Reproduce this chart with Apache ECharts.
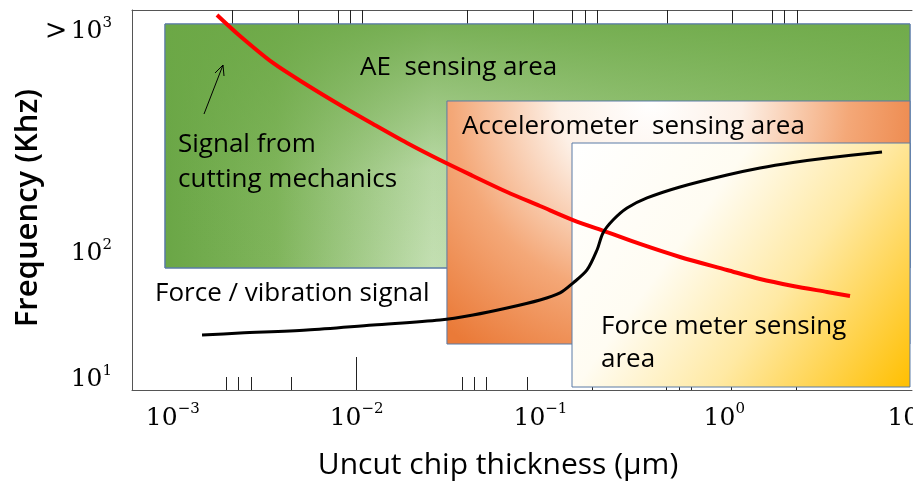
<!DOCTYPE html>
<html><head><meta charset="utf-8">
<script src="https://cdn.jsdelivr.net/npm/echarts@6/dist/echarts.min.js"></script>
<style>html,body{margin:0;padding:0;background:#fff}#c{width:913px;height:482px}</style>
</head><body><div id="c"></div>
<script>
// axis label positions
const xLabelValues = [0.001, 0.01, 0.1, 1, 10];
const yLabelValues = [10, 100, 5690]; // top one is the ">10^3" band
// decorative tick marks read off the frame
const bottomShortTicks = [0.00195, 0.00226, 0.00266, 0.00440, 0.0374, 0.0435, 0.0506, 0.0845, 0.482, 0.567, 0.659, 1.088];
const bottomLongTicks = [0.00993, 0.1907, 2.457];
const topShortTicks = [0.00210, 0.00480, 0.00792, 0.00921, 0.0399, 0.0911, 0.1485, 0.1747, 0.488, 1.102, 1.818, 2.113];
const topLongTicks = [0.01070, 0.2031, 2.488];
// red curve: signal from cutting mechanics
const redX = [0.00174, 0.00232, 0.00351, 0.00537, 0.00812, 0.01228, 0.01880, 0.02843, 0.04296, 0.06577, 0.09947, 0.1504, 0.2302, 0.3479, 0.5742, 1.035, 1.564, 2.365, 3.622, 4.831];
const redY = [7762, 5288, 3228, 2160, 1499, 1059, 748, 548, 409.6, 305.6, 236.6, 183, 147, 118.2, 93.2, 73.5, 62.3, 54.9, 49.2, 45.7];
// black curve: force / vibration signal
const blackX = [0.001442, 0.00232, 0.00537, 0.01228, 0.02843, 0.04296, 0.06577, 0.09947, 0.1278, 0.1504, 0.1792, 0.2031, 0.2189, 0.2482, 0.2958, 0.3800, 0.5742, 1.035, 1.564, 2.365, 3.622, 7.212];
const blackY = [22.4, 23.2, 24.5, 26.9, 29.5, 32.3, 36.7, 42.5, 48.3, 57.9, 73.5, 105.9, 144.5, 183, 228, 274, 335, 417, 474, 524, 569, 635];
// sensing areas
const areaNames = ['AE  sensing area', 'Accelerometer  sensing area', 'Force meter sensing area'];
const areaX1 = [0.000907, 0.0310, 0.1485];
const areaX2 = [10.24, 10.24, 10.24];
const areaY1 = [76.2, 19.0, 8.66];
const areaY2 = [6585, 1612, 748];

const chart = echarts.init(document.getElementById('c'), null, {renderer: 'canvas'});
const XMIN = 0.0006, XMAX = 10.5, YMIN = 8.2, YMAX = 8500;
const serif = 'DejaVu Serif';
const sans = 'Open Sans';
const border = {borderColor: '#5a7aa6', borderWidth: 1};

function expLabel(v) {
  const e = Math.round(Math.log10(v));
  const s = e < 0 ? '\u2212' + (-e) : String(e);
  return '{b|10}{s|' + s + '}';
}
const rich = {
  b: {fontFamily: serif, fontSize: 25, color: '#000', lineHeight: 32},
  s: {fontFamily: serif, fontSize: 15, color: '#000', verticalAlign: 'top', lineHeight: 16},
  o: {fontFamily: serif, fontSize: 27, color: '#000', lineHeight: 32}
};

function tickAxis(pos, vals, len, showLine) {
  return {
    type: 'log', position: pos, min: XMIN, max: XMAX, logBase: 10,
    axisLine: {show: showLine, lineStyle: {color: '#555', width: 1}},
    axisTick: {show: true, inside: true, length: len, customValues: vals, lineStyle: {color: '#222', width: 1}},
    axisLabel: {show: false}, splitLine: {show: false}, minorTick: {show: false}
  };
}

const greenGrad = new echarts.graphic.LinearGradient(0, 0, 1, 0, [
  {offset: 0, color: '#6aa646'}, {offset: 0.15, color: '#80b55c'}, {offset: 0.36, color: '#c3dfb2'},
  {offset: 0.6, color: '#a9d08f'}, {offset: 1, color: '#88bc64'}]);
const greenShade = new echarts.graphic.LinearGradient(0, 0, 0, 1, [
  {offset: 0, color: 'rgba(108,168,70,0.85)'}, {offset: 0.6, color: 'rgba(108,168,70,0.12)'}, {offset: 1, color: 'rgba(108,168,70,0)'}]);
const orangeGrad = new echarts.graphic.RadialGradient(0.44, 0, 1.25, [
  {offset: 0, color: '#ffffff'}, {offset: 0.3, color: '#fdf0e6'}, {offset: 0.65, color: '#f4a878'}, {offset: 1, color: '#ea7a38'}]);
const yellowGrad = new echarts.graphic.LinearGradient(0, 0, 1, 1, [
  {offset: 0, color: '#ffffff'}, {offset: 0.35, color: '#fffcf2'}, {offset: 0.62, color: '#ffe9a3'}, {offset: 1, color: '#ffbf00'}]);

const areas = [
  [{coord: [areaX1[0], areaY2[0]], itemStyle: Object.assign({color: greenGrad}, border)}, {coord: [areaX2[0], areaY1[0]]}],
  [{coord: [areaX1[0], areaY2[0]], itemStyle: {color: greenShade, borderWidth: 0}}, {coord: [areaX2[0], areaY1[0]]}],
  [{coord: [areaX1[0], areaY2[0]], itemStyle: {color: 'rgba(0,0,0,0)', borderColor: '#5a7aa6', borderWidth: 1}}, {coord: [areaX2[0], areaY1[0]]}],
  [{coord: [areaX1[1], areaY2[1]], itemStyle: Object.assign({color: orangeGrad}, border)}, {coord: [areaX2[1], areaY1[1]]}],
  [{coord: [areaX1[2], areaY2[2]], itemStyle: Object.assign({color: yellowGrad}, border)}, {coord: [areaX2[2], areaY1[2]]}]
];

const txt = (t, x, y, size) => ({type: 'text', z: 100, style: {text: t, x: x, y: y, font: size + 'px "' + sans + '"', fill: '#000', verticalAlign: 'middle'}});

chart.setOption({
  animation: false,
  backgroundColor: '#fff',
  grid: {left: 132, right: 1, top: 10, bottom: 92, containLabel: false, outerBoundsMode: 'none'},
  xAxis: [
    {
      type: 'log', position: 'bottom', min: XMIN, max: XMAX, logBase: 10,
      name: 'Uncut chip thickness (\u03bcm)', nameLocation: 'middle', nameGap: 60,
      nameTextStyle: {fontFamily: sans, fontSize: 30, color: '#000', padding: [0, 48, 0, 0]},
      axisLine: {show: true, lineStyle: {color: '#555', width: 1}},
      axisTick: {show: true, inside: true, length: 13, customValues: bottomShortTicks, lineStyle: {color: '#222'}},
      axisLabel: {show: true, customValues: xLabelValues, margin: 12, formatter: expLabel, rich: rich},
      splitLine: {show: false}, minorTick: {show: false}
    },
    tickAxis('bottom', bottomLongTicks, 33, false),
    tickAxis('top', topShortTicks, 14, true),
    tickAxis('top', topLongTicks, 31, false)
  ],
  yAxis: {
    type: 'log', min: YMIN, max: YMAX, logBase: 10,
    name: 'Frequency (Khz)', nameLocation: 'middle', nameGap: 88, nameRotate: 90, nameMoveOverlap: false,
    nameTextStyle: {fontFamily: sans, fontSize: 31, fontWeight: 600, color: '#000', padding: [0, 16, 0, 0]},
    axisLine: {show: true, lineStyle: {color: '#555', width: 1}},
    axisTick: {show: false},
    axisLabel: {show: true, customValues: yLabelValues, margin: 20,
      formatter: v => v > 1000 ? '{o|>} {b|10}{s|3}' : expLabel(v), rich: rich},
    splitLine: {show: false}, minorTick: {show: false}
  },
  series: [
    {type: 'line', data: [], z: 1, silent: true,
     markArea: {silent: true, z: 1, label: {show: false}, data: areas}},
    {type: 'line', name: 'Signal from cutting mechanics', z: 5, smooth: 0.3, symbol: 'none',
     lineStyle: {color: '#ff0000', width: 4}, data: redX.map((x, i) => [x, redY[i]])},
    {type: 'line', name: 'Force / vibration signal', z: 5, smooth: 0.3, symbol: 'none',
     lineStyle: {color: '#000', width: 3}, data: blackX.map((x, i) => [x, blackY[i]])}
  ],
  graphic: [
    txt(areaNames[0], 360, 68, 26),
    txt(areaNames[1], 462, 127, 26),
    txt('Force meter sensing', 601, 327, 26),
    txt('area', 601, 360, 26),
    txt('Signal from', 178, 145, 26),
    txt('cutting mechanics', 178, 180, 26),
    txt('Force / vibration signal', 155, 294, 26),
    {type: 'polyline', z: 100, shape: {points: [[204, 114], [223, 65]]}, style: {stroke: '#000', lineWidth: 1, fill: null}},
    {type: 'polyline', z: 100, shape: {points: [[215, 73], [223, 65], [224, 76]]}, style: {stroke: '#000', lineWidth: 1, fill: null}}
  ]
});
</script></body></html>
